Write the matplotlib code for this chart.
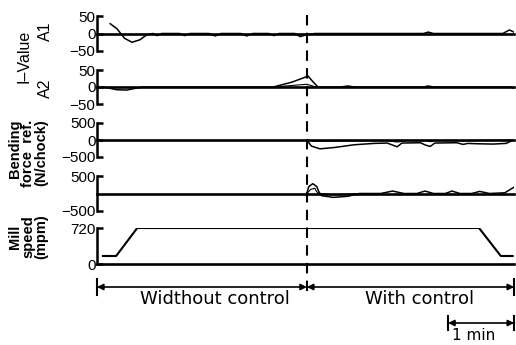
import matplotlib
matplotlib.use("Agg")
import matplotlib.pyplot as plt

plt.rcParams['font.family'] = ['Liberation Sans Narrow', 'Liberation Sans', 'DejaVu Sans']

# time axis in minutes, control switched on at switch_t
t_end = 6.32
switch_t = 3.18

# I-value A1
a1_t = [0.20, 0.30, 0.42, 0.53, 0.65, 0.76, 0.85, 0.91, 0.98, 1.25, 1.33, 1.41, 1.70, 1.79, 1.88,
        2.18, 2.27, 2.36, 2.60, 2.68, 2.76, 3.00, 3.08, 3.18, 3.30, 4.95, 5.02, 5.10, 6.15, 6.25, 6.32]
a1_v = [28, 14, -14, -25, -18, -3, 0, -6, 0, 0, -6, 0, 0, -7, 0,
        0, -7, 0, 0, -6, 0, 0, -9, -3, 0, 0, 4, 0, 0, 10, 4]

# I-value A2
a2_t = [0.10, 0.30, 0.45, 0.55, 0.70, 2.67, 2.95, 3.20, 3.27, 3.35, 3.70, 3.80, 3.90,
        4.95, 5.02, 5.10, 6.28, 6.32]
a2_v = [0, -8, -9, -5, 0, 0, 14, 32, 16, 0, 0, 3, 0, 0, 3, 0, 0, -4]
a2_ref_t = [2.67, 3.18, 3.32]
a2_ref_v = [0, 8, 0]

# bending force reference
bend_t = [3.18, 3.25, 3.38, 3.60, 3.90, 4.20, 4.40, 4.48, 4.55, 4.62, 4.90, 4.98, 5.05, 5.12,
          5.45, 5.55, 5.62, 5.75, 6.00, 6.20, 6.30]
bend_v = [0, -180, -260, -220, -140, -100, -90, -150, -200, -90, -80, -150, -190, -90,
          -80, -130, -100, -110, -120, -100, -10]
bend_ref_t = [3.18, 3.30, 3.60, 4.40, 4.55, 4.70, 5.00, 5.05, 5.10, 5.50, 5.55, 5.60, 6.30]
bend_ref_v = [0, -40, -30, -20, -60, -20, -20, -50, -20, -20, -40, -20, 0]

# bending force (second chart)
force_t = [3.18, 3.21, 3.27, 3.33, 3.36, 3.40, 3.58, 3.80, 3.98, 4.30, 4.48, 4.65, 4.85, 4.97,
           5.10, 5.28, 5.38, 5.50, 5.68, 5.80, 5.95, 6.18, 6.32]
force_v = [0, 200, 280, 200, 60, -60, -110, -80, 0, 0, 70, 0, 0, 70,
           0, 0, 70, 0, 0, 60, 0, 20, 180]
force_ref_t = [3.18, 3.24, 3.30, 3.33, 3.36, 3.60, 3.98]
force_ref_v = [0, 120, 150, 50, 0, -40, 0]

# mill speed
speed_t = [0.09, 0.29, 0.61, 5.79, 6.12, 6.30]
speed_v = [160, 160, 720, 720, 160, 160]

W, H = 516, 345
fig = plt.figure(figsize=(W / 100, H / 100), dpi=100)

x0, x1 = 97, 514


def panel(top, bottom, lo, hi, ticks, labels):
    ax = fig.add_axes([x0 / W, 1 - bottom / H, (x1 - x0) / W, (bottom - top) / H])
    ax.set_xlim(0, t_end)
    ax.set_ylim(lo, hi)
    ax.patch.set_alpha(0)
    for s in ['top', 'right', 'bottom']:
        ax.spines[s].set_visible(False)
    ax.spines['left'].set_linewidth(1.8)
    ax.set_xticks([])
    ax.set_yticks(ticks)
    ax.set_yticklabels(labels)
    ax.tick_params(axis='y', direction='in', length=4, width=1.8, pad=1, labelsize=11)
    ax.axhline(0, color='black', lw=1.9, clip_on=False)
    return ax


ax1 = panel(16, 51, -50, 50, [-50, 0, 50], ['−50', '0', '50'])
ax1.plot(a1_t, a1_v, color='black', lw=1.1)

ax2 = panel(70, 104, -50, 50, [-50, 0, 50], ['−50', '0', '50'])
ax2.plot(a2_t, a2_v, color='black', lw=1.1)
ax2.plot(a2_ref_t, a2_ref_v, color='black', lw=0.8)

ax3 = panel(123, 157, -500, 500, [-500, 0, 500], ['−500', '0', '500'])
ax3.plot(bend_t, bend_v, color='black', lw=1.1)
ax3.plot(bend_ref_t, bend_ref_v, color='black', lw=0.8)

ax4 = panel(176, 211, -500, 500, [-500, 500], ['−500', '500'])
ax4.plot(force_t, force_v, color='black', lw=1.1)
ax4.plot(force_ref_t, force_ref_v, color='black', lw=0.8)

ax5 = panel(228, 264, 0, 720, [0, 720], ['0', '720'])
ax5.plot(speed_t, speed_v, color='black', lw=1.5)

# overlay in pixel rows for labels, dashed switch line, arrows
ov = fig.add_axes([0, 0, 1, 1])
ov.set_xlim(-x0 / 66, (W - x0) / 66)
ov.set_ylim(H, 0)
ov.axis('off')
ov.patch.set_alpha(0)

ov.plot([switch_t, switch_t], [15, 294], color='black', lw=1.5, ls=(0, (5, 3.5)))

# y labels
xl = lambda px: (px - x0) / 66
ov.text(xl(24), 56, 'I–Value', rotation=90, ha='center', va='center', fontsize=11.5)
ov.text(xl(45), 31, 'A1', rotation=90, ha='center', va='center', fontsize=11.5)
ov.text(xl(45), 88, 'A2', rotation=90, ha='center', va='center', fontsize=11.5)
ov.text(xl(28), 153, 'Bending\nforce  ref.\n(N/chock)', rotation=90, ha='center', va='center',
        fontsize=10.5, fontweight='bold', multialignment='right', linespacing=0.95)
ov.text(xl(28), 237, 'Mill\nspeed\n(mpm)', rotation=90, ha='center', va='center',
        fontsize=10.5, fontweight='bold', multialignment='center', linespacing=0.95)

# period arrows
ov.plot([0, 0], [279, 295], color='black', lw=1.5)
ov.plot([t_end, t_end], [279, 295], color='black', lw=1.5)
ov.annotate('', xy=(0, 287), xytext=(switch_t, 287),
            arrowprops=dict(arrowstyle='<|-|>', color='black', lw=1.2, mutation_scale=9, shrinkA=0, shrinkB=0))
ov.annotate('', xy=(switch_t, 287), xytext=(t_end, 287),
            arrowprops=dict(arrowstyle='<|-|>', color='black', lw=1.2, mutation_scale=9, shrinkA=0, shrinkB=0))
ov.text(xl(215), 299, 'Widthout control', ha='center', va='center', fontsize=13, family='DejaVu Sans')
ov.text(xl(420), 299, 'With control', ha='center', va='center', fontsize=13, family='DejaVu Sans')

# 1 min scale bar
ov.plot([t_end - 1, t_end - 1], [316, 330], color='black', lw=1.5)
ov.plot([t_end, t_end], [316, 330], color='black', lw=1.5)
ov.annotate('', xy=(t_end - 1, 323), xytext=(t_end, 323),
            arrowprops=dict(arrowstyle='<|-|>', color='black', lw=1.2, mutation_scale=9, shrinkA=0, shrinkB=0))
ov.text(xl(474), 335, '1 min', ha='center', va='center', fontsize=11, family='DejaVu Sans')

fig.savefig('out.png', dpi=100)
